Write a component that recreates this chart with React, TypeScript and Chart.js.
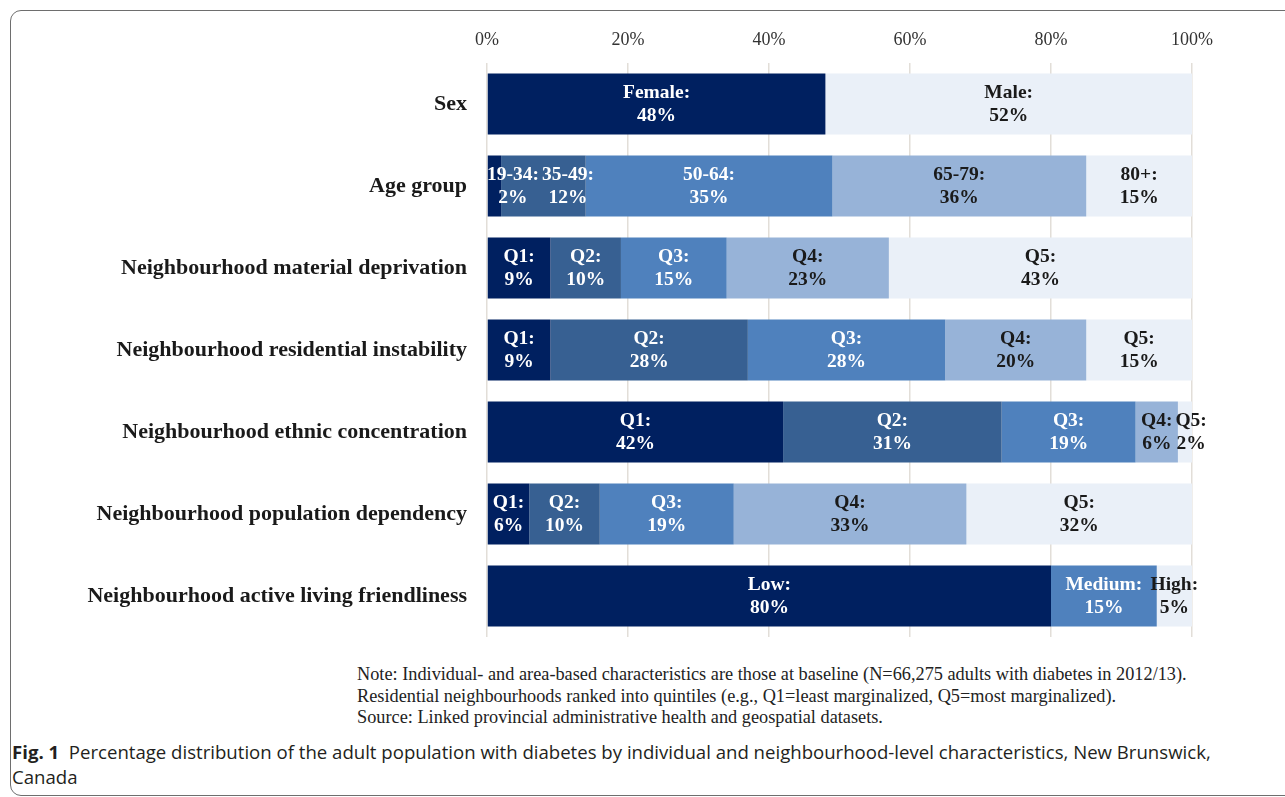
import React, { useEffect, useRef } from "react";
import { Chart, registerables } from "chart.js";

Chart.register(...registerables);

const categories = [
  "Sex",
  "Age group",
  "Neighbourhood material deprivation",
  "Neighbourhood residential instability",
  "Neighbourhood ethnic concentration",
  "Neighbourhood population dependency",
  "Neighbourhood active living friendliness",
];

const xTicks = [0, 20, 40, 60, 80, 100];

const sexLabels = ["Female", "Male"];
const sexValues = [48, 52];

const ageLabels = ["19-34", "35-49", "50-64", "65-79", "80+"];
const ageValues = [2, 12, 35, 36, 15];

const quintileLabels = ["Q1", "Q2", "Q3", "Q4", "Q5"];
const materialValues = [9, 10, 15, 23, 43];
const residentialValues = [9, 28, 28, 20, 15];
const ethnicValues = [42, 31, 19, 6, 2];
const dependencyValues = [6, 10, 19, 33, 32];

const activeLabels = ["Low", "Medium", "High"];
const activeValues = [80, 15, 5];

const NAVY = "#002060";
const DARK = "#376092";
const ACCENT = "#4F81BD";
const LIGHT = "#97B3D8";
const LIGHTEST = "#EAF0F8";
const DARK_TEXT = new Set([LIGHT, LIGHTEST]);

const FIVE = [NAVY, DARK, ACCENT, LIGHT, LIGHTEST];

const rows = [
  { labels: sexLabels, values: sexValues, colors: [NAVY, LIGHTEST] },
  { labels: ageLabels, values: ageValues, colors: FIVE },
  { labels: quintileLabels, values: materialValues, colors: FIVE },
  { labels: quintileLabels, values: residentialValues, colors: FIVE },
  { labels: quintileLabels, values: ethnicValues, colors: FIVE },
  { labels: quintileLabels, values: dependencyValues, colors: FIVE },
  { labels: activeLabels, values: activeValues, colors: [NAVY, ACCENT, LIGHTEST] },
];

const SERIF = '"Liberation Serif", "DejaVu Serif", serif';

const segmentLabelPlugin = {
  id: "segmentLabels",
  afterDatasetsDraw(chart: any) {
    const ctx = chart.ctx;
    const gap = 3;
    ctx.save();
    ctx.font = `bold 19.5px ${SERIF}`;
    ctx.textAlign = "center";
    ctx.textBaseline = "middle";
    rows.forEach((row, ri) => {
      let prevRight = chart.chartArea.left - gap;
      row.values.forEach((v, si) => {
        const el = chart.getDatasetMeta(si).data[ri];
        if (!el) return;
        const center = (el.base + el.x) / 2;
        const l1 = row.labels[si] + ":";
        const l2 = v + "%";
        const w = Math.max(ctx.measureText(l1).width, ctx.measureText(l2).width);
        const cx = Math.max(center, prevRight + gap + w / 2);
        prevRight = cx + w / 2;
        ctx.fillStyle = DARK_TEXT.has(row.colors[si]) ? "#1a1a1a" : "#ffffff";
        ctx.fillText(l1, cx, el.y - 11.5);
        ctx.fillText(l2, cx, el.y + 11.5);
      });
    });
    ctx.restore();
  },
};

function BarChart() {
  const ref = useRef<HTMLCanvasElement>(null);
  useEffect(() => {
    if (!ref.current) return;
    const datasets = [0, 1, 2, 3, 4].map((i) => ({
      label: "Segment " + (i + 1),
      data: rows.map((r) => (r.values[i] === undefined ? null : r.values[i])),
      backgroundColor: rows.map((r) => r.colors[i] || "transparent"),
      borderWidth: 0,
      barPercentage: 0.744,
      categoryPercentage: 1,
    }));
    const chart = new Chart(ref.current, {
      type: "bar",
      data: { labels: categories, datasets },
      options: {
        indexAxis: "y",
        responsive: false,
        animation: false,
        devicePixelRatio: 1,
        layout: { padding: { left: 0, right: 93, top: 0, bottom: 0 } },
        plugins: { legend: { display: false }, tooltip: { enabled: false } },
        scales: {
          x: {
            position: "top",
            stacked: true,
            min: 0,
            max: 100,
            afterBuildTicks(scale: any) {
              scale.ticks = xTicks.map((v) => ({ value: v }));
            },
            afterFit(scale: any) {
              scale.height = 63;
            },
            ticks: {
              callback: (v: any) => v + "%",
              font: { family: SERIF, size: 18 },
              color: "#333333",
              padding: 12,
            },
            grid: { color: "#e2ded8", lineWidth: 1.5, drawTicks: false },
            border: { display: false },
          },
          y: {
            stacked: true,
            afterFit(scale: any) {
              scale.width = 487;
              scale.paddingTop = 0;
              scale.paddingBottom = 0;
            },
            ticks: {
              font: { family: SERIF, size: 22, weight: "bold" },
              color: "#1a1a1a",
              padding: 20,
            },
            grid: { display: false, drawTicks: false },
            border: { display: false },
          },
        },
      },
      plugins: [segmentLabelPlugin],
    } as any);
    return () => chart.destroy();
  }, []);
  return <canvas ref={ref} width={1285} height={637} style={{ display: "block" }} />;
}

export default function App() {
  return (
    <div
      style={{
        position: "fixed",
        left: 0,
        top: 0,
        width: 1285,
        height: 797,
        background: "#ffffff",
        overflow: "hidden",
      }}
    >
      <div
        style={{
          position: "absolute",
          left: 10,
          top: 10,
          width: 1300,
          height: 786,
          border: "1.5px solid #6e6e6e",
          borderRadius: 11,
          boxSizing: "border-box",
        }}
      />
      <div style={{ position: "absolute", left: 0, top: 0 }}>
        <BarChart />
      </div>
      <div
        style={{
          position: "absolute",
          left: 357,
          top: 664,
          fontFamily: SERIF,
          fontSize: 18.3,
          lineHeight: "21.5px",
          color: "#222222",
          whiteSpace: "nowrap",
        }}
      >
        Note: Individual- and area-based characteristics are those at baseline (N=66,275 adults with diabetes in 2012/13).
        <br />
        Residential neighbourhoods ranked into quintiles (e.g., Q1=least marginalized, Q5=most marginalized).
        <br />
        Source: Linked provincial administrative health and geospatial datasets.
      </div>
      <div
        style={{
          position: "absolute",
          left: 12,
          top: 739,
          fontFamily: '"Open Sans", "Noto Sans", sans-serif',
          fontSize: 18.6,
          lineHeight: "25px",
          color: "#231f20",
          whiteSpace: "nowrap",
        }}
      >
        <b>Fig. 1</b>&nbsp;&nbsp;Percentage distribution of the adult population with diabetes by individual and neighbourhood-level characteristics, New Brunswick,
        <br />
        Canada
      </div>
    </div>
  );
}
